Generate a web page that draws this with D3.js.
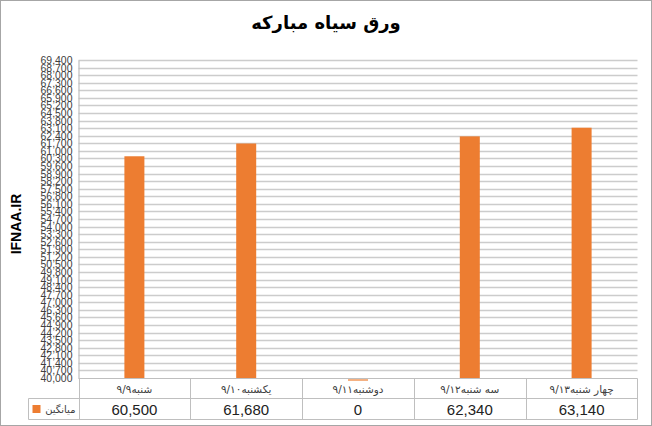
<!DOCTYPE html>
<html>
<head>
<meta charset="utf-8">
<script src="https://cdn.jsdelivr.net/npm/d3@7"></script>
<style>
  html, body { margin: 0; padding: 0; background: #fff; }
  svg { display: block; }
</style>
</head>
<body>
<svg id="chart" width="652" height="426"></svg>
<script>
// ---- data ----
const title = "ورق سیاه مبارکه";
const yAxisTitle = "IFNAA.IR";
const seriesName = "میانگین";
const categoryWords = ["شنبه", "یکشنبه", "دوشنبه", "سه شنبه", "چهار شنبه"];
const categoryDates = ["۹/۹", "۹/۱۰", "۹/۱۱", "۹/۱۲", "۹/۱۳"];
const values = [60500, 61680, 0, 62340, 63140];
const valueLabels = ["60,500", "61,680", "0", "62,340", "63,140"];
const yMin = 40000, yMax = 69400, yStep = 700;

// ---- layout ----
const svg = d3.select("#chart");
const W = 652, H = 426;
const plot = { left: 78.5, right: 637.5, top: 60, bottom: 378 };
const tableLeft = 28.5, row1 = 378.5, row2 = 398.5, row3 = 419.5;
const barColor = "#ED7D31";
const gridColor = "#cccccc";
const lineColor = "#bfbfbf";
const persianFont = "'DejaVu Sans', 'Noto Sans', sans-serif";
const latinFont = "'Liberation Sans', Arial, sans-serif";

svg.append("rect").attr("x", 0.5).attr("y", 0.5).attr("width", W - 1).attr("height", H - 1)
  .attr("fill", "#fff").attr("stroke", "#a6a6a6");

const categories = categoryWords.map((w, i) => w + categoryDates[i]);

const x = d3.scaleBand().domain(categories).range([plot.left, plot.right]);
const y = d3.scaleLinear().domain([yMin, yMax]).range([plot.bottom, plot.top]).clamp(true);
const yTicks = d3.range(yMin, yMax + 1, yStep);

// gridlines
svg.append("g").selectAll("line").data(yTicks.filter(t => t > yMin)).join("line")
  .attr("x1", plot.left).attr("x2", plot.right)
  .attr("y1", d => Math.round(y(d)) + 0.5).attr("y2", d => Math.round(y(d)) + 0.5)
  .attr("stroke", gridColor).attr("stroke-width", 1.3);

// y axis
const yAxis = d3.axisLeft(y).tickValues(yTicks).tickFormat(d3.format(",")).tickSize(0).tickPadding(6);
const gy = svg.append("g").attr("transform", `translate(${plot.left},0)`).call(yAxis);
gy.select(".domain").attr("stroke", "#bfbfbf").attr("stroke-width", 1.2);
gy.selectAll("text").attr("font-family", latinFont).attr("font-size", 11)
  .attr("fill", "#404040").attr("textLength", 32).attr("lengthAdjust", "spacingAndGlyphs");

// bars
const barW = 20;
svg.append("g").selectAll("rect").data(values).join("rect")
  .attr("x", (d, i) => x(categories[i]) + x.bandwidth() / 2 - barW / 2)
  .attr("y", d => d < yMin ? y(yMin) + 1 : y(d))
  .attr("width", barW)
  .attr("height", d => d < yMin ? 2 : y(yMin) - y(d))
  .attr("fill", d => d < yMin ? "#f4b183" : barColor);

// data table lines
const tbl = svg.append("g").attr("stroke", lineColor).attr("stroke-width", 1).attr("fill", "none");
tbl.append("line").attr("x1", plot.left).attr("x2", plot.right).attr("y1", row1).attr("y2", row1);
tbl.append("line").attr("x1", tableLeft).attr("x2", plot.right).attr("y1", row2).attr("y2", row2);
tbl.append("line").attr("x1", tableLeft).attr("x2", plot.right).attr("y1", row3).attr("y2", row3);
tbl.append("line").attr("x1", tableLeft).attr("x2", tableLeft).attr("y1", row2).attr("y2", row3);
const colEdges = categories.map(c => Math.round(x(c)) + 0.5).concat([plot.right]);
tbl.selectAll("line.col").data(colEdges).join("line").attr("class", "col")
  .attr("x1", d => d).attr("x2", d => d).attr("y1", row1).attr("y2", row3);

// category labels
svg.append("g").selectAll("text").data(categories).join("text")
  .attr("x", d => x(d) + x.bandwidth() / 2)
  .attr("y", (row1 + row2) / 2 + 4)
  .attr("text-anchor", "middle")
  .attr("font-family", persianFont).attr("font-size", 10.5).attr("fill", "#404040")
  .text(d => d);

// value labels
svg.append("g").selectAll("text").data(valueLabels).join("text")
  .attr("x", (d, i) => x(categories[i]) + x.bandwidth() / 2)
  .attr("y", (row2 + row3) / 2 + 5.5)
  .attr("text-anchor", "middle")
  .attr("font-family", latinFont).attr("font-size", 15).attr("fill", "#222")
  .text(d => d);

// legend key cell
svg.append("rect").attr("x", tableLeft + 4).attr("y", (row2 + row3) / 2 - 4)
  .attr("width", 8).attr("height", 8).attr("fill", barColor);
svg.append("text").attr("x", plot.left - 3).attr("y", (row2 + row3) / 2 + 4)
  .attr("text-anchor", "end").attr("font-family", persianFont)
  .attr("font-size", 10).attr("fill", "#404040").text(seriesName);

// title
svg.append("text").attr("x", 326).attr("y", 29)
  .attr("text-anchor", "middle").attr("font-family", persianFont)
  .attr("font-weight", "bold").attr("font-size", 18).attr("fill", "#000")
  .text(title);

// y axis title
svg.append("text").attr("transform", `translate(21,${(plot.top + plot.bottom) / 2 + 5}) rotate(-90)`)
  .attr("text-anchor", "middle").attr("font-family", latinFont)
  .attr("font-weight", "bold").attr("font-size", 14).attr("fill", "#000")
  .text(yAxisTitle);
</script>
</body>
</html>
